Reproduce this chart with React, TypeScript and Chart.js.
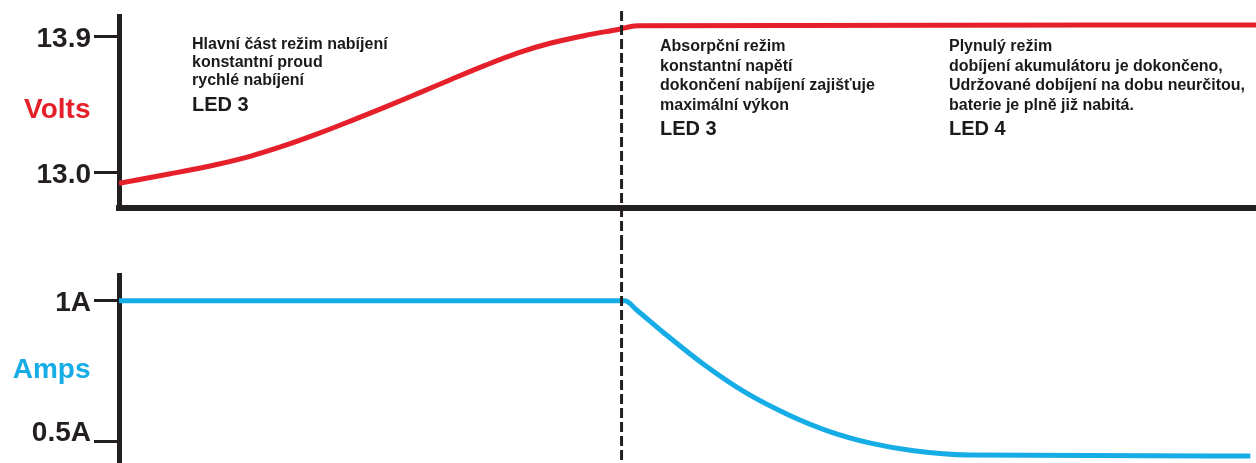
import React, { useEffect, useRef } from 'react';
import { Chart, registerables } from 'chart.js';

Chart.register(...registerables);

// ---------- data ----------
const voltTime = [0, 4.4, 8.7, 11.6, 14.6, 17.5, 20.4, 23.4, 26.3, 29.2, 32.2, 35.1, 38.0, 41.0, 43.9, 45.6, 100];
const voltValues = [12.932, 12.993, 13.058, 13.112, 13.182, 13.26, 13.345, 13.436, 13.527, 13.619, 13.712, 13.795, 13.86, 13.91, 13.95, 13.975, 13.979];
const ampTime = [0, 44.5, 45.5, 47.8, 51.5, 55.2, 58.9, 62.5, 66.2, 69.9, 74.7, 99.5];
const ampValues = [1.0, 1.0, 0.968, 0.89, 0.772, 0.672, 0.595, 0.536, 0.494, 0.468, 0.453, 0.449];

const voltTicks = [13.0, 13.9];
const voltTickLabels = ['13.0', '13.9'];
const ampTicks = [0.5, 1.0];
const ampTickLabels = ['0.5A', '1A'];
const voltTitle = 'Volts';
const ampTitle = 'Amps';

const phaseBoundary = 44.2;
const phase1Lines = ['Hlavní část režim nabíjení', 'konstantní proud', 'rychlé nabíjení'];
const phase2Lines = ['Absorpční režim', 'konstantní napětí', 'dokončení nabíjení zajišťuje', 'maximální výkon'];
const phase3Lines = ['Plynulý režim', 'dobíjení akumulátoru je dokončeno,', 'Udržované dobíjení na dobu neurčitou,', 'baterie je plně již nabitá.'];
const phaseLeds = ['LED 3', 'LED 3', 'LED 4'];

// ---------- style ----------
const W = 1256;
const TOP_H = 240;
const BOT_H = 223;
const RED = '#e5202a';
const BLUE = '#16ace6';
const INK = '#231f20';
const FAMILY = '"Liberation Sans", Arial, Helvetica, sans-serif';
const AXIS_W = 119;
const TICK_LEN = 25;
const TICK_PAD = 3;

const dashPlugin = (fromY: number) => ({
  id: 'phaseDash',
  afterDatasetsDraw(chart: any) {
    const { ctx, scales } = chart;
    const px = scales.x.getPixelForValue(phaseBoundary);
    ctx.save();
    ctx.strokeStyle = INK;
    ctx.lineWidth = 3;
    ctx.setLineDash([10, 4]);
    ctx.beginPath();
    ctx.moveTo(px, fromY);
    ctx.lineTo(px, chart.height);
    ctx.stroke();
    ctx.restore();
  },
});

const titlePlugin = (text: string, color: string, baselineFromTop: number) => ({
  id: 'axisTitle',
  afterDraw(chart: any) {
    const { ctx, chartArea } = chart;
    ctx.save();
    ctx.font = `bold 28px ${FAMILY}`;
    ctx.fillStyle = color;
    ctx.textAlign = 'right';
    ctx.textBaseline = 'alphabetic';
    ctx.fillText(text, chartArea.left - TICK_LEN - TICK_PAD - 0.5, chartArea.top + baselineFromTop);
    ctx.restore();
  },
});

const notesPlugin = {
  id: 'notes',
  afterDraw(chart: any) {
    const { ctx, chartArea } = chart;
    const blocks = [
      { lines: phase1Lines, led: phaseLeds[0], dx: 73, y0: 32.5, step: 18.4, ledY: 95 },
      { lines: phase2Lines, led: phaseLeds[1], dx: 541, y0: 34.7, step: 19.8, ledY: 119.2 },
      { lines: phase3Lines, led: phaseLeds[2], dx: 830, y0: 34.7, step: 19.8, ledY: 119.2 },
    ];
    ctx.save();
    ctx.fillStyle = '#1a1a1a';
    ctx.textAlign = 'left';
    ctx.textBaseline = 'alphabetic';
    for (const b of blocks) {
      const x = chartArea.left + b.dx;
      ctx.font = `bold 16px ${FAMILY}`;
      b.lines.forEach((t, i) => ctx.fillText(t, x, chartArea.top + b.y0 + i * b.step));
      ctx.font = `bold 20px ${FAMILY}`;
      ctx.fillText(b.led, x, chartArea.top + b.ledY);
    }
    ctx.restore();
  },
};

function yScale(min: number, max: number, ticks: number[], labels: string[], lowTickUp: boolean) {
  return {
    min,
    max,
    afterFit: (s: any) => {
      s.width = AXIS_W;
      s.paddingTop = 0;
      s.paddingBottom = 0;
    },
    afterBuildTicks: (s: any) => {
      s.ticks = ticks.map((v) => ({ value: v }));
    },
    ticks: {
      callback: (_v: any, i: number) => (lowTickUp && i === 0 ? [labels[i], ''] : labels[i]),
      font: (c: any) => ({
        family: FAMILY,
        size: 28,
        weight: 'bold',
        lineHeight: lowTickUp && c.index === 0 ? 0.75 : 1.2,
      }),
      color: INK,
      padding: TICK_PAD,
      labelOffset: 2.5,
    },
    grid: {
      drawOnChartArea: false,
      drawTicks: true,
      tickLength: TICK_LEN,
      tickWidth: 3,
      tickColor: INK,
      lineWidth: 3,
      color: INK,
    },
    border: { display: true, width: 5, color: INK },
  };
}

export default function App() {
  const topRef = useRef<HTMLCanvasElement>(null);
  const botRef = useRef<HTMLCanvasElement>(null);

  useEffect(() => {
    const top = new Chart(topRef.current as HTMLCanvasElement, {
      type: 'line',
      data: {
        datasets: [
          {
            label: voltTitle,
            data: voltTime.map((x, i) => ({ x, y: voltValues[i] })),
            borderColor: RED,
            borderWidth: 5,
            pointRadius: 0,
            fill: false,
            cubicInterpolationMode: 'monotone',
          },
        ],
      },
      options: {
        animation: false,
        responsive: false,
        maintainAspectRatio: false,
        layout: { padding: { top: 16, left: 0, right: 0, bottom: 0 } },
        plugins: { legend: { display: false }, tooltip: { enabled: false } },
        scales: {
          x: {
            type: 'linear',
            min: 0,
            max: 100,
            grid: { display: false },
            ticks: { display: false },
            border: { display: true, width: 6, color: INK },
            afterFit: (s: any) => {
              s.height = TOP_H - 208;
              s.paddingLeft = 0;
              s.paddingRight = 0;
            },
          },
          y: yScale(12.768, 14.039, voltTicks, voltTickLabels, false),
        },
      } as any,
      plugins: [dashPlugin(11), notesPlugin, titlePlugin(voltTitle, RED, 102.3)],
    });

    const bot = new Chart(botRef.current as HTMLCanvasElement, {
      type: 'line',
      data: {
        datasets: [
          {
            label: ampTitle,
            data: ampTime.map((x, i) => ({ x, y: ampValues[i] })),
            borderColor: BLUE,
            borderWidth: 5,
            pointRadius: 0,
            fill: false,
            cubicInterpolationMode: 'monotone',
          },
        ],
      },
      options: {
        animation: false,
        responsive: false,
        maintainAspectRatio: false,
        layout: { padding: { top: 35, left: 0, right: 0, bottom: 0 } },
        plugins: { legend: { display: false }, tooltip: { enabled: false } },
        scales: {
          x: { type: 'linear', min: 0, max: 100, display: false },
          y: yScale(0.4245, 1.0911, ampTicks, ampTickLabels, true),
        },
      } as any,
      plugins: [dashPlugin(0), titlePlugin(ampTitle, BLUE, 103.3)],
    });

    return () => {
      top.destroy();
      bot.destroy();
    };
  }, []);

  return (
    <div style={{ position: 'fixed', left: 0, top: 0, width: W, height: TOP_H + BOT_H, background: '#fff' }}>
      <canvas
        ref={topRef}
        width={W}
        height={TOP_H}
        style={{ position: 'absolute', left: 0, top: 0, width: W, height: TOP_H }}
      />
      <canvas
        ref={botRef}
        width={W}
        height={BOT_H}
        style={{ position: 'absolute', left: 0, top: TOP_H, width: W, height: BOT_H }}
      />
    </div>
  );
}
